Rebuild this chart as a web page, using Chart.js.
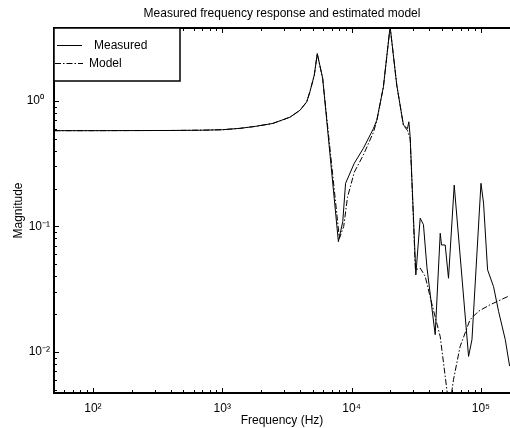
<!DOCTYPE html>
<html lang="en">
<head>
<meta charset="UTF-8">
<title>Measured frequency response and estimated model</title>
<script src="https://cdn.jsdelivr.net/npm/chart.js@4"></script>
<style>
  html, body { margin: 0; padding: 0; background: #fff; }
  #wrap { width: 510px; height: 428px; }
</style>
</head>
<body>
<div id="wrap"><canvas id="chart"></canvas></div>
<script>
// values (Hz, magnitude)
const measuredFreq = [50, 100, 200, 400, 700, 1000, 1370, 1800, 2460, 3340, 3990, 4500, 4765, 5150, 5430, 5980,
  7910, 8550, 8990, 10500, 12340, 14750, 15670, 17630, 19870, 22380, 25180, 27050, 27740, 28390,
  31410, 33950, 35980, 38280, 44330, 48500, 49630, 52990, 56200, 62220, 80330, 85340,
  100200, 104900, 112700, 125400, 137100, 154500, 166800];
const measuredMag = [0.578, 0.578, 0.579, 0.58, 0.583, 0.588, 0.603, 0.625, 0.66, 0.74, 0.84, 0.98, 1.18, 1.6, 2.38, 1.51,
  0.0755, 0.109, 0.22, 0.318, 0.418, 0.60, 0.70, 1.29, 3.9, 1.33, 0.64, 0.60, 0.68, 0.52,
  0.041, 0.116, 0.103, 0.047, 0.0137, 0.088, 0.071, 0.071, 0.0386, 0.213, 0.0092, 0.0125,
  0.22, 0.153, 0.045, 0.033, 0.021, 0.0125, 0.0077];

const modelFreq = [50, 100, 200, 400, 700, 1000, 1370, 1800, 2460, 3340, 3990, 4500, 4765, 5150, 5430, 5980,
  8050, 8700, 9300, 10500, 12340, 14750, 15670, 17630, 19870, 22380, 25180, 27050, 28390,
  31180, 33950, 37080, 41640, 48500, 57000, 61420, 69060, 82400, 95500, 117700, 166800];
const modelMag = [0.578, 0.578, 0.579, 0.58, 0.583, 0.588, 0.603, 0.625, 0.66, 0.74, 0.84, 0.98, 1.18, 1.6, 2.36, 1.5,
  0.08, 0.1, 0.17, 0.27, 0.37, 0.56, 0.69, 1.29, 3.9, 1.33, 0.64, 0.58, 0.50,
  0.045, 0.0465, 0.040, 0.0245, 0.0132, 0.0035, 0.006, 0.011, 0.018, 0.021, 0.0237, 0.028];

const xTicks = [100, 1000, 10000, 100000];
const xTickLabels = ['10²', '10³', '10⁴', '10⁵'];
const yTicks = [0.01, 0.1, 1];
const yTickLabels = ['10⁻²', '10⁻¹', '10⁰\u2002'];

const chartTitle = 'Measured frequency response and estimated model';
const FONT = 'Helvetica, Arial, "Liberation Sans", sans-serif';

function toPoints(xs, ys) {
  return xs.map((x, i) => ({ x: x, y: ys[i] }));
}

function minorValues(min, max) {
  const out = [];
  for (let n = -4; n <= 6; n++) {
    for (let k = 1; k <= 9; k++) {
      const v = k * Math.pow(10, n);
      if (v >= min && v <= max) out.push({ v: v, major: k === 1 });
    }
  }
  return out;
}

// MATLAB style frame: title over the axes, inward ticks, axis lines and boxed legend
const frame = {
  id: 'frame',
  afterDatasetsDraw(chart) {
    const { ctx, chartArea: a, scales: { x, y } } = chart;
    ctx.save();
    ctx.fillStyle = '#000';
    ctx.font = '12px ' + FONT;
    ctx.textAlign = 'center';
    ctx.textBaseline = 'middle';
    ctx.fillText(chartTitle, (a.left + a.right) / 2, 14);

    ctx.strokeStyle = '#000';
    ctx.lineWidth = 1;
    ctx.beginPath();
    minorValues(x.min, x.max).forEach(t => {
      const px = Math.round(x.getPixelForValue(t.v)) + 0.5;
      const len = t.major ? 5 : 3;
      ctx.moveTo(px, a.bottom); ctx.lineTo(px, a.bottom - len);
      ctx.moveTo(px, a.top); ctx.lineTo(px, a.top + len);
    });
    minorValues(y.min, y.max).forEach(t => {
      const py = Math.round(y.getPixelForValue(t.v)) + 0.5;
      const len = t.major ? 5 : 3;
      ctx.moveTo(a.left, py); ctx.lineTo(a.left + len, py);
    });
    ctx.stroke();

    ctx.lineWidth = 2;
    ctx.beginPath();
    ctx.moveTo(a.right, a.top); ctx.lineTo(a.left, a.top);
    ctx.lineTo(a.left, a.bottom); ctx.lineTo(a.right, a.bottom);
    ctx.stroke();

    // legend
    const lx = a.left, ly = a.top, lw = 126, lh = 53;
    ctx.fillStyle = '#fff';
    ctx.fillRect(lx, ly, lw, lh);
    ctx.lineWidth = 1.5;
    ctx.strokeRect(lx, ly, lw, lh);

    ctx.lineWidth = 1;
    ctx.beginPath();
    ctx.moveTo(lx + 3, ly + 17.5); ctx.lineTo(lx + 28, ly + 17.5);
    ctx.stroke();
    ctx.setLineDash([6, 2, 1.5, 2]);
    ctx.beginPath();
    ctx.moveTo(lx + 1, ly + 35.5); ctx.lineTo(lx + 29, ly + 35.5);
    ctx.stroke();
    ctx.setLineDash([]);

    ctx.fillStyle = '#000';
    ctx.textAlign = 'left';
    ctx.fillText(chart.data.datasets[0].label, lx + 40, ly + 18);
    ctx.fillText(chart.data.datasets[1].label, lx + 35, ly + 36);
    ctx.restore();
  }
};

new Chart(document.getElementById('chart'), {
  type: 'line',
  data: {
    datasets: [
      {
        label: 'Measured',
        data: toPoints(measuredFreq, measuredMag),
        borderColor: '#000',
        borderWidth: 1,
        pointRadius: 0,
        tension: 0
      },
      {
        label: 'Model',
        data: toPoints(modelFreq, modelMag),
        borderColor: '#000',
        borderWidth: 1,
        borderDash: [6, 2, 1.5, 2],
        pointRadius: 0,
        tension: 0
      }
    ]
  },
  options: {
    responsive: true,
    maintainAspectRatio: false,
    animation: false,
    layout: { padding: { top: 28, left: 0, right: 0, bottom: 0 } },
    plugins: {
      legend: { display: false },
      tooltip: { enabled: false },
      title: { display: false }
    },
    scales: {
      x: {
        type: 'logarithmic',
        min: 50,
        max: 168000,
        grid: { display: false, drawTicks: false },
        border: { display: false },
        afterBuildTicks: s => { s.ticks = xTicks.map(v => ({ value: v })); },
        afterFit: s => { s.height = 35; },
        ticks: {
          autoSkip: false,
          maxRotation: 0,
          padding: 8,
          color: '#000',
          font: { family: FONT, size: 12 },
          callback: v => xTickLabels[xTicks.indexOf(v)]
        },
        title: {
          display: true,
          text: 'Frequency (Hz)',
          color: '#000',
          font: { family: FONT, size: 12 },
          padding: { top: 0, bottom: 0 }
        }
      },
      y: {
        type: 'logarithmic',
        min: 0.0047,
        max: 3.8,
        grid: { display: false, drawTicks: false },
        border: { display: false },
        afterBuildTicks: s => { s.ticks = yTicks.map(v => ({ value: v })); },
        afterFit: s => { s.width = 54; },
        ticks: {
          autoSkip: false,
          padding: 4,
          color: '#000',
          font: { family: FONT, size: 12 },
          callback: v => yTickLabels[yTicks.indexOf(v)]
        },
        title: {
          display: true,
          text: 'Magnitude',
          color: '#000',
          font: { family: FONT, size: 12 },
          padding: { top: 11, bottom: 0 }
        }
      }
    }
  },
  plugins: [frame]
});
</script>
</body>
</html>
